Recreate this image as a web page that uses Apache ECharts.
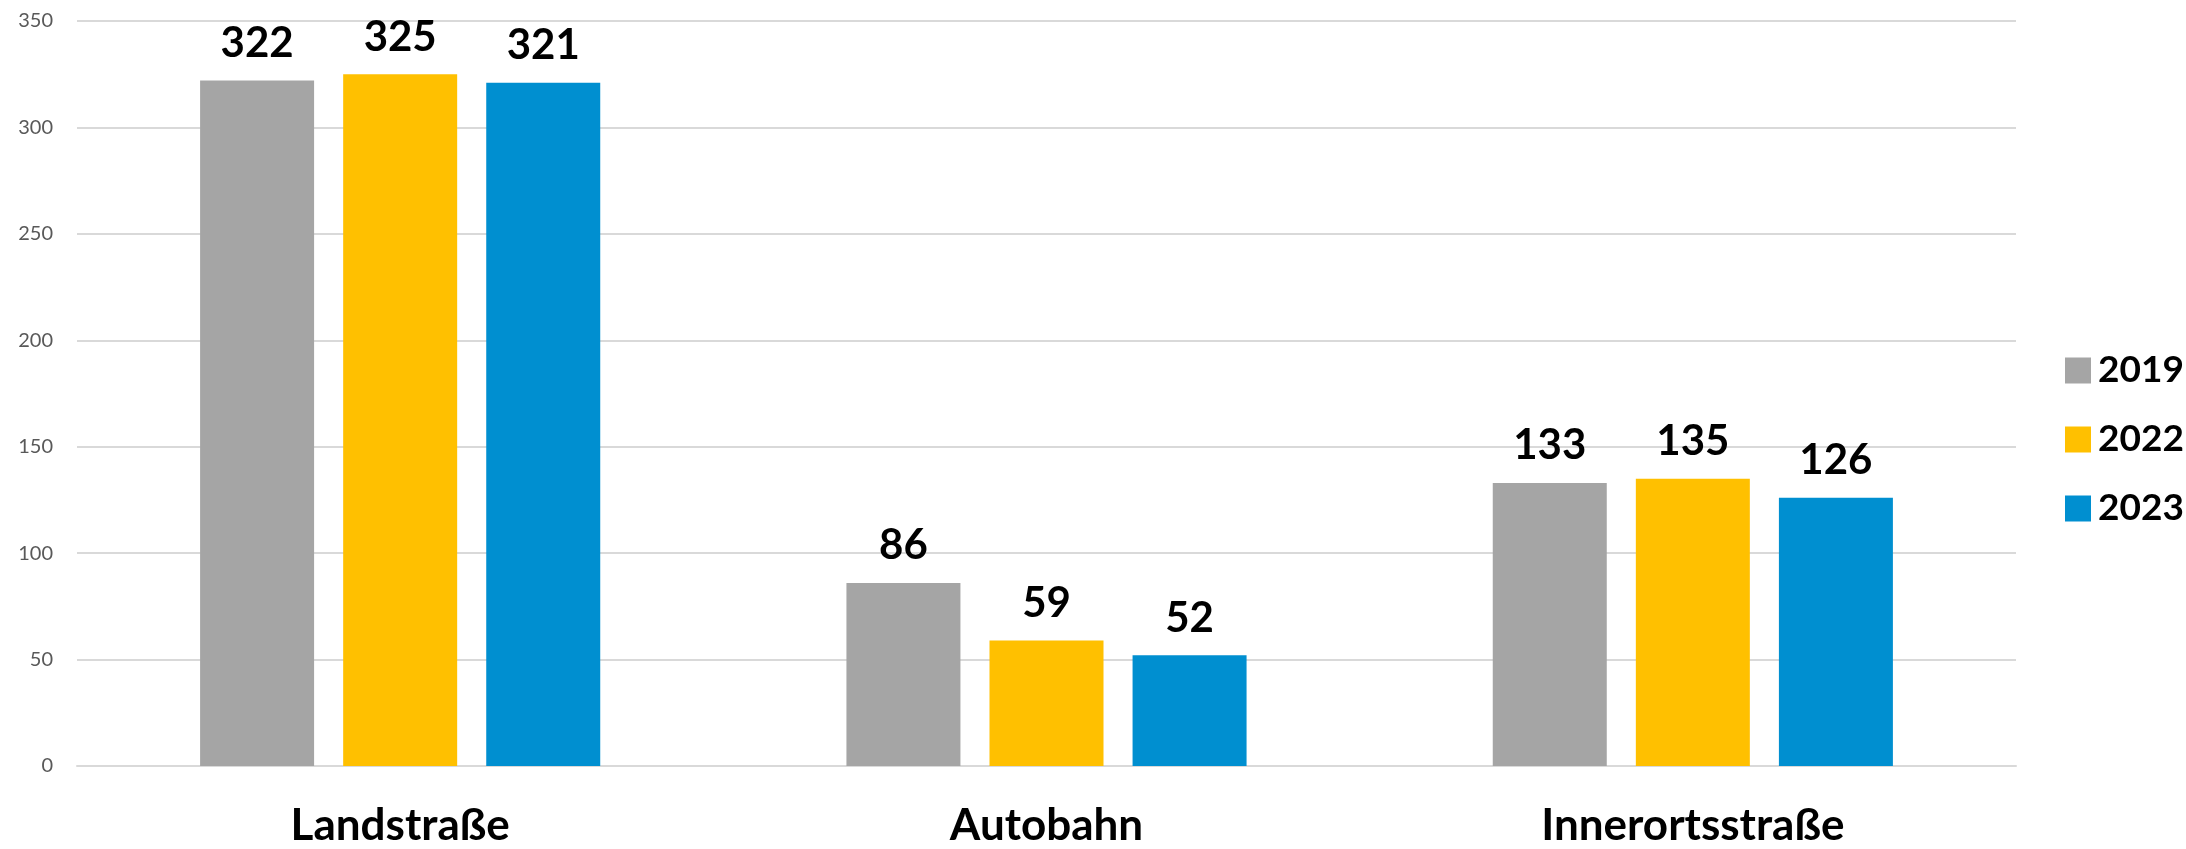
<!DOCTYPE html>
<html>
<head>
<meta charset="utf-8">
<script src="https://cdn.jsdelivr.net/npm/echarts@6/dist/echarts.min.js"></script>
<style>
html,body{margin:0;padding:0;background:#fff;}
#chart{width:2186px;height:849px;}
</style>
</head>
<body>
<div id="chart"></div>
<script>
const categories = ['Landstraße', 'Autobahn', 'Innerortsstraße'];
const seriesNames = ['2019', '2022', '2023'];
const values2019 = [322, 86, 133];
const values2022 = [325, 59, 135];
const values2023 = [321, 52, 126];
const colors = ['#A5A5A5', '#FFC000', '#008FD0'];
const yTicks = [0, 50, 100, 150, 200, 250, 300, 350];

const dataSets = [values2019, values2022, values2023];
const chart = echarts.init(document.getElementById('chart'));
const fontFam = 'Lato, "Open Sans", sans-serif';

chart.setOption({
  animation: false,
  backgroundColor: '#ffffff',
  grid: { left: 77, right: 170, top: 21, bottom: 83, containLabel: false },
  legend: {
    orient: 'vertical',
    left: 2060,
    top: 347,
    itemWidth: 26,
    itemHeight: 26,
    itemGap: 32,
    icon: 'rect',
    textStyle: { fontSize: 37, fontWeight: 'bold', color: '#000', fontFamily: fontFam, padding: [0, 0, 0, 2] },
    data: seriesNames
  },
  xAxis: {
    type: 'category',
    data: categories,
    axisLine: { show: true, lineStyle: { color: '#D9D9D9', width: 2 } },
    axisTick: { show: false },
    axisLabel: { fontSize: 44, fontWeight: 'bold', color: '#000', fontFamily: fontFam, margin: 38 }
  },
  yAxis: {
    type: 'value',
    min: yTicks[0],
    max: yTicks[yTicks.length - 1],
    interval: 50,
    axisLine: { show: false },
    axisTick: { show: false },
    splitLine: { lineStyle: { color: '#D9D9D9', width: 2 } },
    axisLabel: { fontSize: 20, color: '#595959', fontFamily: fontFam, margin: 24 }
  },
  series: seriesNames.map((name, i) => ({
    name: name,
    type: 'bar',
    data: dataSets[i],
    barWidth: 114,
    barGap: '25.5%',
    itemStyle: { color: colors[i] },
    label: {
      show: true,
      position: 'top',
      distance: 16,
      fontSize: 42,
      fontWeight: 'bold',
      color: '#000',
      fontFamily: fontFam
    }
  }))
});
</script>
</body>
</html>
